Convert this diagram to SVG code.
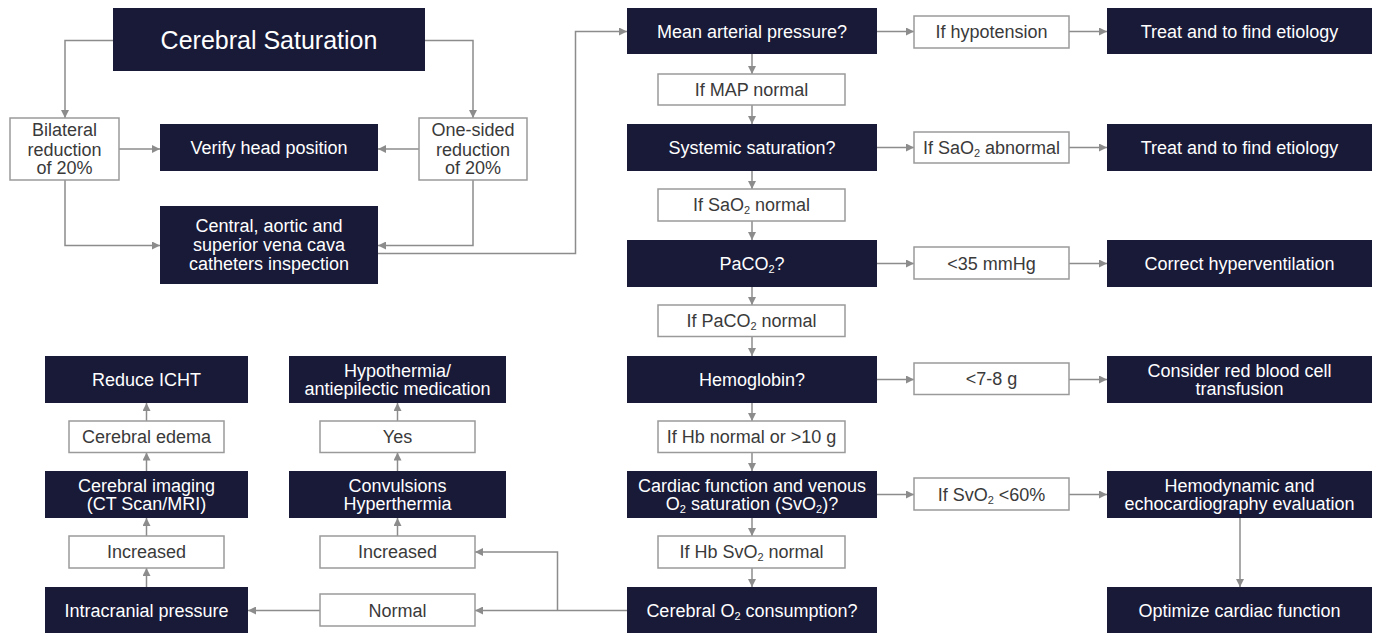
<svg xmlns="http://www.w3.org/2000/svg" width="1376" height="633" viewBox="0 0 1376 633">
<defs>
<style>
.d{fill:#181a38}
.w{fill:#fff;stroke:#9a9a9a;stroke-width:1.5}
text{font-family:"Liberation Sans",Arial,sans-serif;font-size:18px;text-anchor:middle}
.dt{fill:#fff}
.wt{fill:#3a3a3a}
.s{font-size:11px}
.c{fill:none;stroke:#8c8c8c;stroke-width:1.5;marker-end:url(#a)}
</style>
<marker id="a" viewBox="0 0 10 10" refX="10" refY="5" markerWidth="8" markerHeight="8" markerUnits="userSpaceOnUse" orient="auto"><path d="M0,0 L10,5 L0,10 z" fill="#8c8c8c"/></marker>
</defs>
<rect width="1376" height="633" fill="#fff"/>

<g id="connectors">
<path class="c" d="M113,40.5 H65 V118"/>
<path class="c" d="M425,40.5 H473 V118"/>
<path class="c" d="M119,149 H160"/>
<path class="c" d="M419,149 H378"/>
<path class="c" d="M65,180 V245.5 H160"/>
<path class="c" d="M473,180 V245.5 H378"/>
<path class="c" d="M378,253.5 H575.5 V31.5 H627"/>
<path class="c" d="M877,31.5 H914"/>
<path class="c" d="M1069,31.5 H1107"/>
<path class="c" d="M877,147.5 H914"/>
<path class="c" d="M1069,147.5 H1107"/>
<path class="c" d="M877,263.5 H914"/>
<path class="c" d="M1069,263.5 H1107"/>
<path class="c" d="M877,379.5 H914"/>
<path class="c" d="M1069,379.5 H1107"/>
<path class="c" d="M877,494.5 H914"/>
<path class="c" d="M1069,494.5 H1107"/>
<path class="c" d="M1240,518 V587"/>
<path class="c" d="M752,54 V74"/>
<path class="c" d="M752,105 V124"/>
<path class="c" d="M752,171 V189"/>
<path class="c" d="M752,221 V240"/>
<path class="c" d="M752,287 V305"/>
<path class="c" d="M752,336.5 V356"/>
<path class="c" d="M752,403 V421"/>
<path class="c" d="M752,452.5 V471"/>
<path class="c" d="M752,518 V536"/>
<path class="c" d="M752,568 V587"/>
<path class="c" d="M627,610.5 H475"/>
<path class="c" d="M557.5,610.5 V552 H475"/>
<path class="c" d="M320,610.5 H248"/>
<path class="c" d="M146.5,587 V568"/>
<path class="c" d="M146.5,536 V518"/>
<path class="c" d="M146.5,471 V452.5"/>
<path class="c" d="M146.5,421 V403"/>
<path class="c" d="M397.5,536 V518"/>
<path class="c" d="M397.5,471 V452.5"/>
<path class="c" d="M397.5,421 V403"/>
</g>

<g id="n-cerebral-saturation"><rect class="d" x="113" y="8" width="312" height="63"/><text class="dt" x="269" y="48.5" style="font-size:25px">Cerebral Saturation</text></g>
<g id="n-bilateral"><rect class="w" x="10" y="118" width="109" height="62"/><text class="wt" x="64.5" y="136">Bilateral</text><text class="wt" x="64.5" y="155.5">reduction</text><text class="wt" x="64.5" y="174">of 20%</text></g>
<g id="n-verify"><rect class="d" x="160" y="124" width="218" height="47"/><text class="dt" x="269" y="154">Verify head position</text></g>
<g id="n-onesided"><rect class="w" x="419" y="118" width="108" height="62"/><text class="wt" x="473" y="136">One-sided</text><text class="wt" x="473" y="155.5">reduction</text><text class="wt" x="473" y="174">of 20%</text></g>
<g id="n-central"><rect class="d" x="160" y="206" width="218" height="78"/><text class="dt" x="269" y="232">Central, aortic and</text><text class="dt" x="269" y="251">superior vena cava</text><text class="dt" x="269" y="270">catheters inspection</text></g>

<g id="n-map"><rect class="d" x="627" y="8" width="250" height="46"/><text class="dt" x="752" y="38">Mean arterial pressure?</text></g>
<g id="n-hypotension"><rect class="w" x="914" y="16" width="155" height="32"/><text class="wt" x="991.5" y="38">If hypotension</text></g>
<g id="n-treat1"><rect class="d" x="1107" y="8" width="265" height="46"/><text class="dt" x="1239.5" y="38">Treat and to find etiology</text></g>
<g id="n-mapnormal"><rect class="w" x="658" y="74" width="187" height="31"/><text class="wt" x="751.5" y="96">If MAP normal</text></g>

<g id="n-systemic"><rect class="d" x="627" y="124" width="250" height="47"/><text class="dt" x="752" y="154">Systemic saturation?</text></g>
<g id="n-sao2abn"><rect class="w" x="914" y="132" width="155" height="31"/><text class="wt" x="991.5" y="154">If SaO<tspan class="s" dy="3">2</tspan><tspan dy="-3"> abnormal</tspan></text></g>
<g id="n-treat2"><rect class="d" x="1107" y="124" width="265" height="47"/><text class="dt" x="1239.5" y="154">Treat and to find etiology</text></g>
<g id="n-sao2norm"><rect class="w" x="658" y="189" width="187" height="32"/><text class="wt" x="751.5" y="211">If SaO<tspan class="s" dy="3">2</tspan><tspan dy="-3"> normal</tspan></text></g>

<g id="n-paco2"><rect class="d" x="627" y="240" width="250" height="47"/><text class="dt" x="752" y="270">PaCO<tspan class="s" dy="3">2</tspan><tspan dy="-3">?</tspan></text></g>
<g id="n-35"><rect class="w" x="914" y="247" width="155" height="32"/><text class="wt" x="991.5" y="269.5">&lt;35 mmHg</text></g>
<g id="n-hypervent"><rect class="d" x="1107" y="240" width="265" height="47"/><text class="dt" x="1239.5" y="270">Correct hyperventilation</text></g>
<g id="n-paco2norm"><rect class="w" x="658" y="305" width="187" height="31.5"/><text class="wt" x="751.5" y="327">If PaCO<tspan class="s" dy="3">2</tspan><tspan dy="-3"> normal</tspan></text></g>

<g id="n-hemoglobin"><rect class="d" x="627" y="356" width="250" height="47"/><text class="dt" x="752" y="386">Hemoglobin?</text></g>
<g id="n-78g"><rect class="w" x="914" y="363" width="155" height="31.5"/><text class="wt" x="991.5" y="385">&lt;7-8 g</text></g>
<g id="n-rbc"><rect class="d" x="1107" y="356" width="265" height="47"/><text class="dt" x="1239.5" y="376.5">Consider red blood cell</text><text class="dt" x="1239.5" y="395">transfusion</text></g>
<g id="n-hbnorm"><rect class="w" x="658" y="421" width="187" height="31.5"/><text class="wt" x="751.5" y="443">If Hb normal or &gt;10 g</text></g>

<g id="n-cardiac"><rect class="d" x="627" y="471" width="250" height="47"/><text class="dt" x="752" y="491.5">Cardiac function and venous</text><text class="dt" x="752" y="510">O<tspan class="s" dy="3">2</tspan><tspan dy="-3"> saturation (SvO</tspan><tspan class="s" dy="3">2</tspan><tspan dy="-3">)?</tspan></text></g>
<g id="n-svo2low"><rect class="w" x="914" y="478" width="155" height="32"/><text class="wt" x="991.5" y="500.5">If SvO<tspan class="s" dy="3">2</tspan><tspan dy="-3"> &lt;60%</tspan></text></g>
<g id="n-hemodynamic"><rect class="d" x="1107" y="471" width="265" height="47"/><text class="dt" x="1239.5" y="491.5">Hemodynamic and</text><text class="dt" x="1239.5" y="510">echocardiography evaluation</text></g>
<g id="n-svo2norm"><rect class="w" x="658" y="536" width="187" height="32"/><text class="wt" x="751.5" y="558">If Hb SvO<tspan class="s" dy="3">2</tspan><tspan dy="-3"> normal</tspan></text></g>

<g id="n-cerebralo2"><rect class="d" x="627" y="587" width="250" height="46"/><text class="dt" x="752" y="617">Cerebral O<tspan class="s" dy="3">2</tspan><tspan dy="-3"> consumption?</tspan></text></g>
<g id="n-optimize"><rect class="d" x="1107" y="587" width="265" height="46"/><text class="dt" x="1239.5" y="617">Optimize cardiac function</text></g>

<g id="n-normal"><rect class="w" x="320" y="594" width="155" height="32"/><text class="wt" x="397.5" y="616.5">Normal</text></g>
<g id="n-increased2"><rect class="w" x="320" y="536" width="155" height="32"/><text class="wt" x="397.5" y="558">Increased</text></g>
<g id="n-convulsions"><rect class="d" x="289" y="471" width="217" height="47"/><text class="dt" x="397.5" y="491.5">Convulsions</text><text class="dt" x="397.5" y="510">Hyperthermia</text></g>
<g id="n-yes"><rect class="w" x="320" y="421" width="155" height="31.5"/><text class="wt" x="397.5" y="443">Yes</text></g>
<g id="n-hypothermia"><rect class="d" x="289" y="356" width="217" height="47"/><text class="dt" x="397.5" y="376.5">Hypothermia/</text><text class="dt" x="397.5" y="395">antiepilectic medication</text></g>

<g id="n-intracranial"><rect class="d" x="45" y="587" width="203" height="46"/><text class="dt" x="146.5" y="617">Intracranial pressure</text></g>
<g id="n-increased1"><rect class="w" x="69" y="536" width="155" height="32"/><text class="wt" x="146.5" y="558">Increased</text></g>
<g id="n-imaging"><rect class="d" x="45" y="471" width="203" height="47"/><text class="dt" x="146.5" y="491.5">Cerebral imaging</text><text class="dt" x="146.5" y="510">(CT Scan/MRI)</text></g>
<g id="n-edema"><rect class="w" x="69" y="421" width="155" height="31.5"/><text class="wt" x="146.5" y="443">Cerebral edema</text></g>
<g id="n-icht"><rect class="d" x="45" y="356" width="203" height="47"/><text class="dt" x="146.5" y="386">Reduce ICHT</text></g>
</svg>
